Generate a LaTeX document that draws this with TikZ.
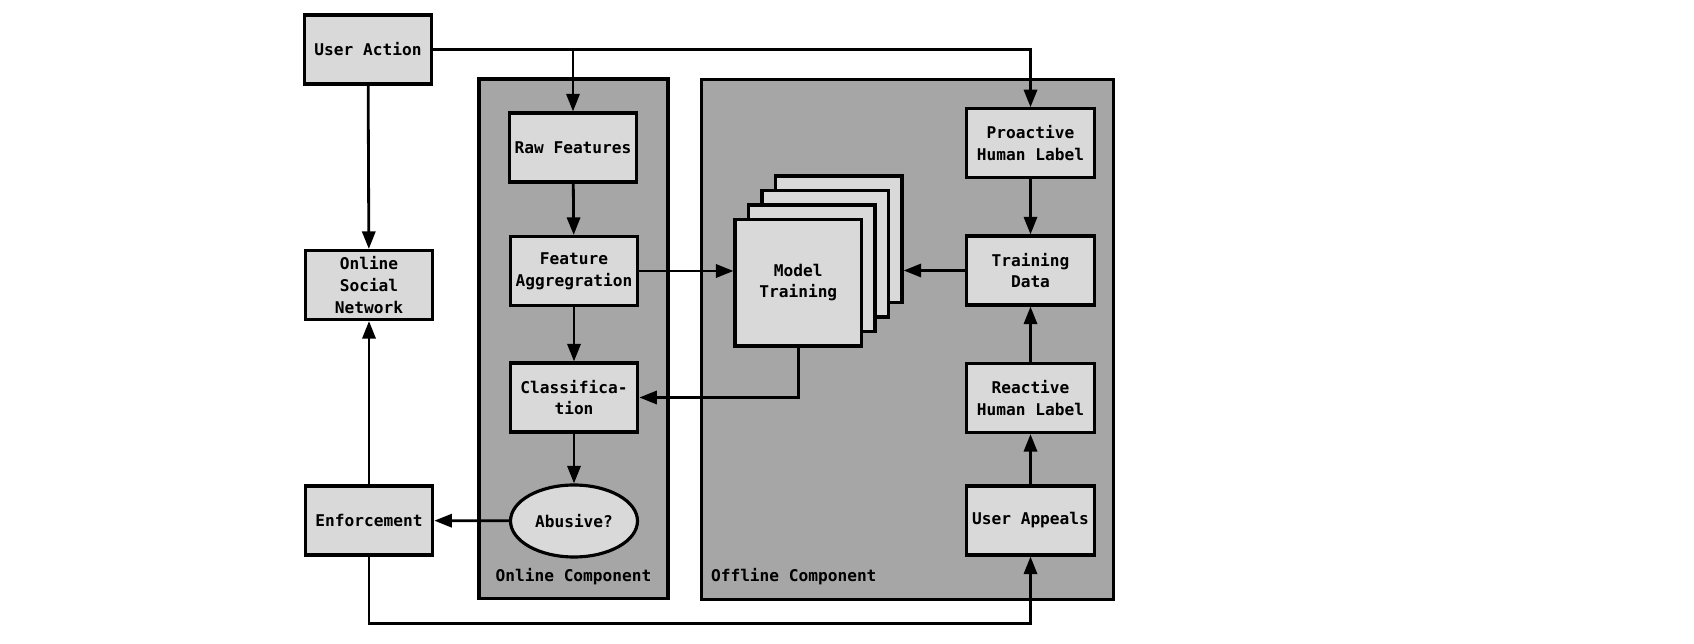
\documentclass[tikz,border=0pt]{standalone}
\usepackage{fontspec}
\setmonofont{DejaVu Sans Mono}
\usetikzlibrary{arrows.meta,shapes.geometric}

\definecolor{boxgray}{HTML}{D9D9D9}
\definecolor{panelgray}{HTML}{A6A6A6}

\begin{document}
\begin{tikzpicture}[
    x=0.02cm, y=-0.02cm,
    every node/.style={font=\fontsize{9.2}{12.3}\selectfont\ttfamily\bfseries},
    block/.style={rectangle, draw, line width=1.8pt, fill=boxgray, align=center,
      minimum width=2.55cm, minimum height=1.38cm, inner sep=0pt},
    decision/.style={ellipse, draw, line width=1.8pt, fill=boxgray,
      minimum width=2.54cm, minimum height=1.44cm, inner sep=0pt},
    stackbox/.style={rectangle, draw, line width=1.8pt, fill=boxgray, align=center,
      minimum width=2.53cm, minimum height=2.53cm, inner sep=0pt},
    panel/.style={draw, line width=1.8pt, fill=panelgray},
    connection/.style={-{Triangle[length=10pt,width=7.5pt]}, line width=1.6pt}
  ]
    \useasboundingbox (0,0) rectangle (1694,644);

    % Component panels
    \draw[panel] (479,79) rectangle (668,598.5);
    \draw[panel] (701.5,79.3) rectangle (1113.3,599.3);
    \node (onlinelabel) at (573.5,576.7) {Online Component};
    \node[anchor=west, inner sep=0pt] (offlinelabel) at (710.7,576.7) {Offline Component};

    % Left column
    \node[block] (useraction) at (368,49.5) {User Action};
    \node[block] (osn) at (369,285) {Online\\Social\\Network};
    \node[block] (enforce) at (369,520.5) {Enforcement};

    % Online component
    \node[block] (raw) at (573,147.5) {Raw Features};
    \node[block] (featagg) at (574,271) {Feature\\Aggregration};
    \node[block] (classif) at (574,397.5) {Classifica-\\tion};
    \node[decision] (abusive) at (574,521) {Abusive?};

    % Offline component
    \foreach \k in {3,2,1}
      \node[stackbox] (model\k) at (798.3+\k*13.5,282.7-\k*14.5) {};
    \node[stackbox] (model) at (798.3,282.7) {Model\\Training};

    \node[block] (proactive) at (1030.5,143.3) {Proactive\\Human Label};
    \node[block] (trainingdata) at (1030.5,270.5) {Training\\Data};
    \node[block] (reactive) at (1030.5,398) {Reactive\\Human Label};
    \node[block] (appeals) at (1030.5,520.5) {User Appeals};

    \coordinate (bottomturn) at (1030.5,623.3);

    % Connections
    \draw[connection] (useraction.east) -| (proactive.north);
    \draw[connection] (useraction.east -| raw.north) -- (raw.north);
    \draw[connection] (useraction) -- (osn);

    \draw[connection] (raw) -- (featagg);
    \draw[connection] (featagg) -- (classif);
    \draw[connection] (classif) -- (abusive);
    \draw[connection] (featagg.east) -- (featagg.east -| model.west);
    \draw[connection] (model.south) |- (classif.east);
    \draw[connection] (abusive) -- (enforce);
    \draw[connection] (enforce) -- (osn);
    \draw[connection] (enforce.south) |- (bottomturn) -- (appeals.south);

    \draw[connection] (proactive) -- (trainingdata);
    \draw[connection] (appeals) -- (reactive);
    \draw[connection] (reactive) -- (trainingdata);
    \draw[connection] (trainingdata.west) -- (trainingdata.west -| model3.east);

  \end{tikzpicture}
\end{document}
